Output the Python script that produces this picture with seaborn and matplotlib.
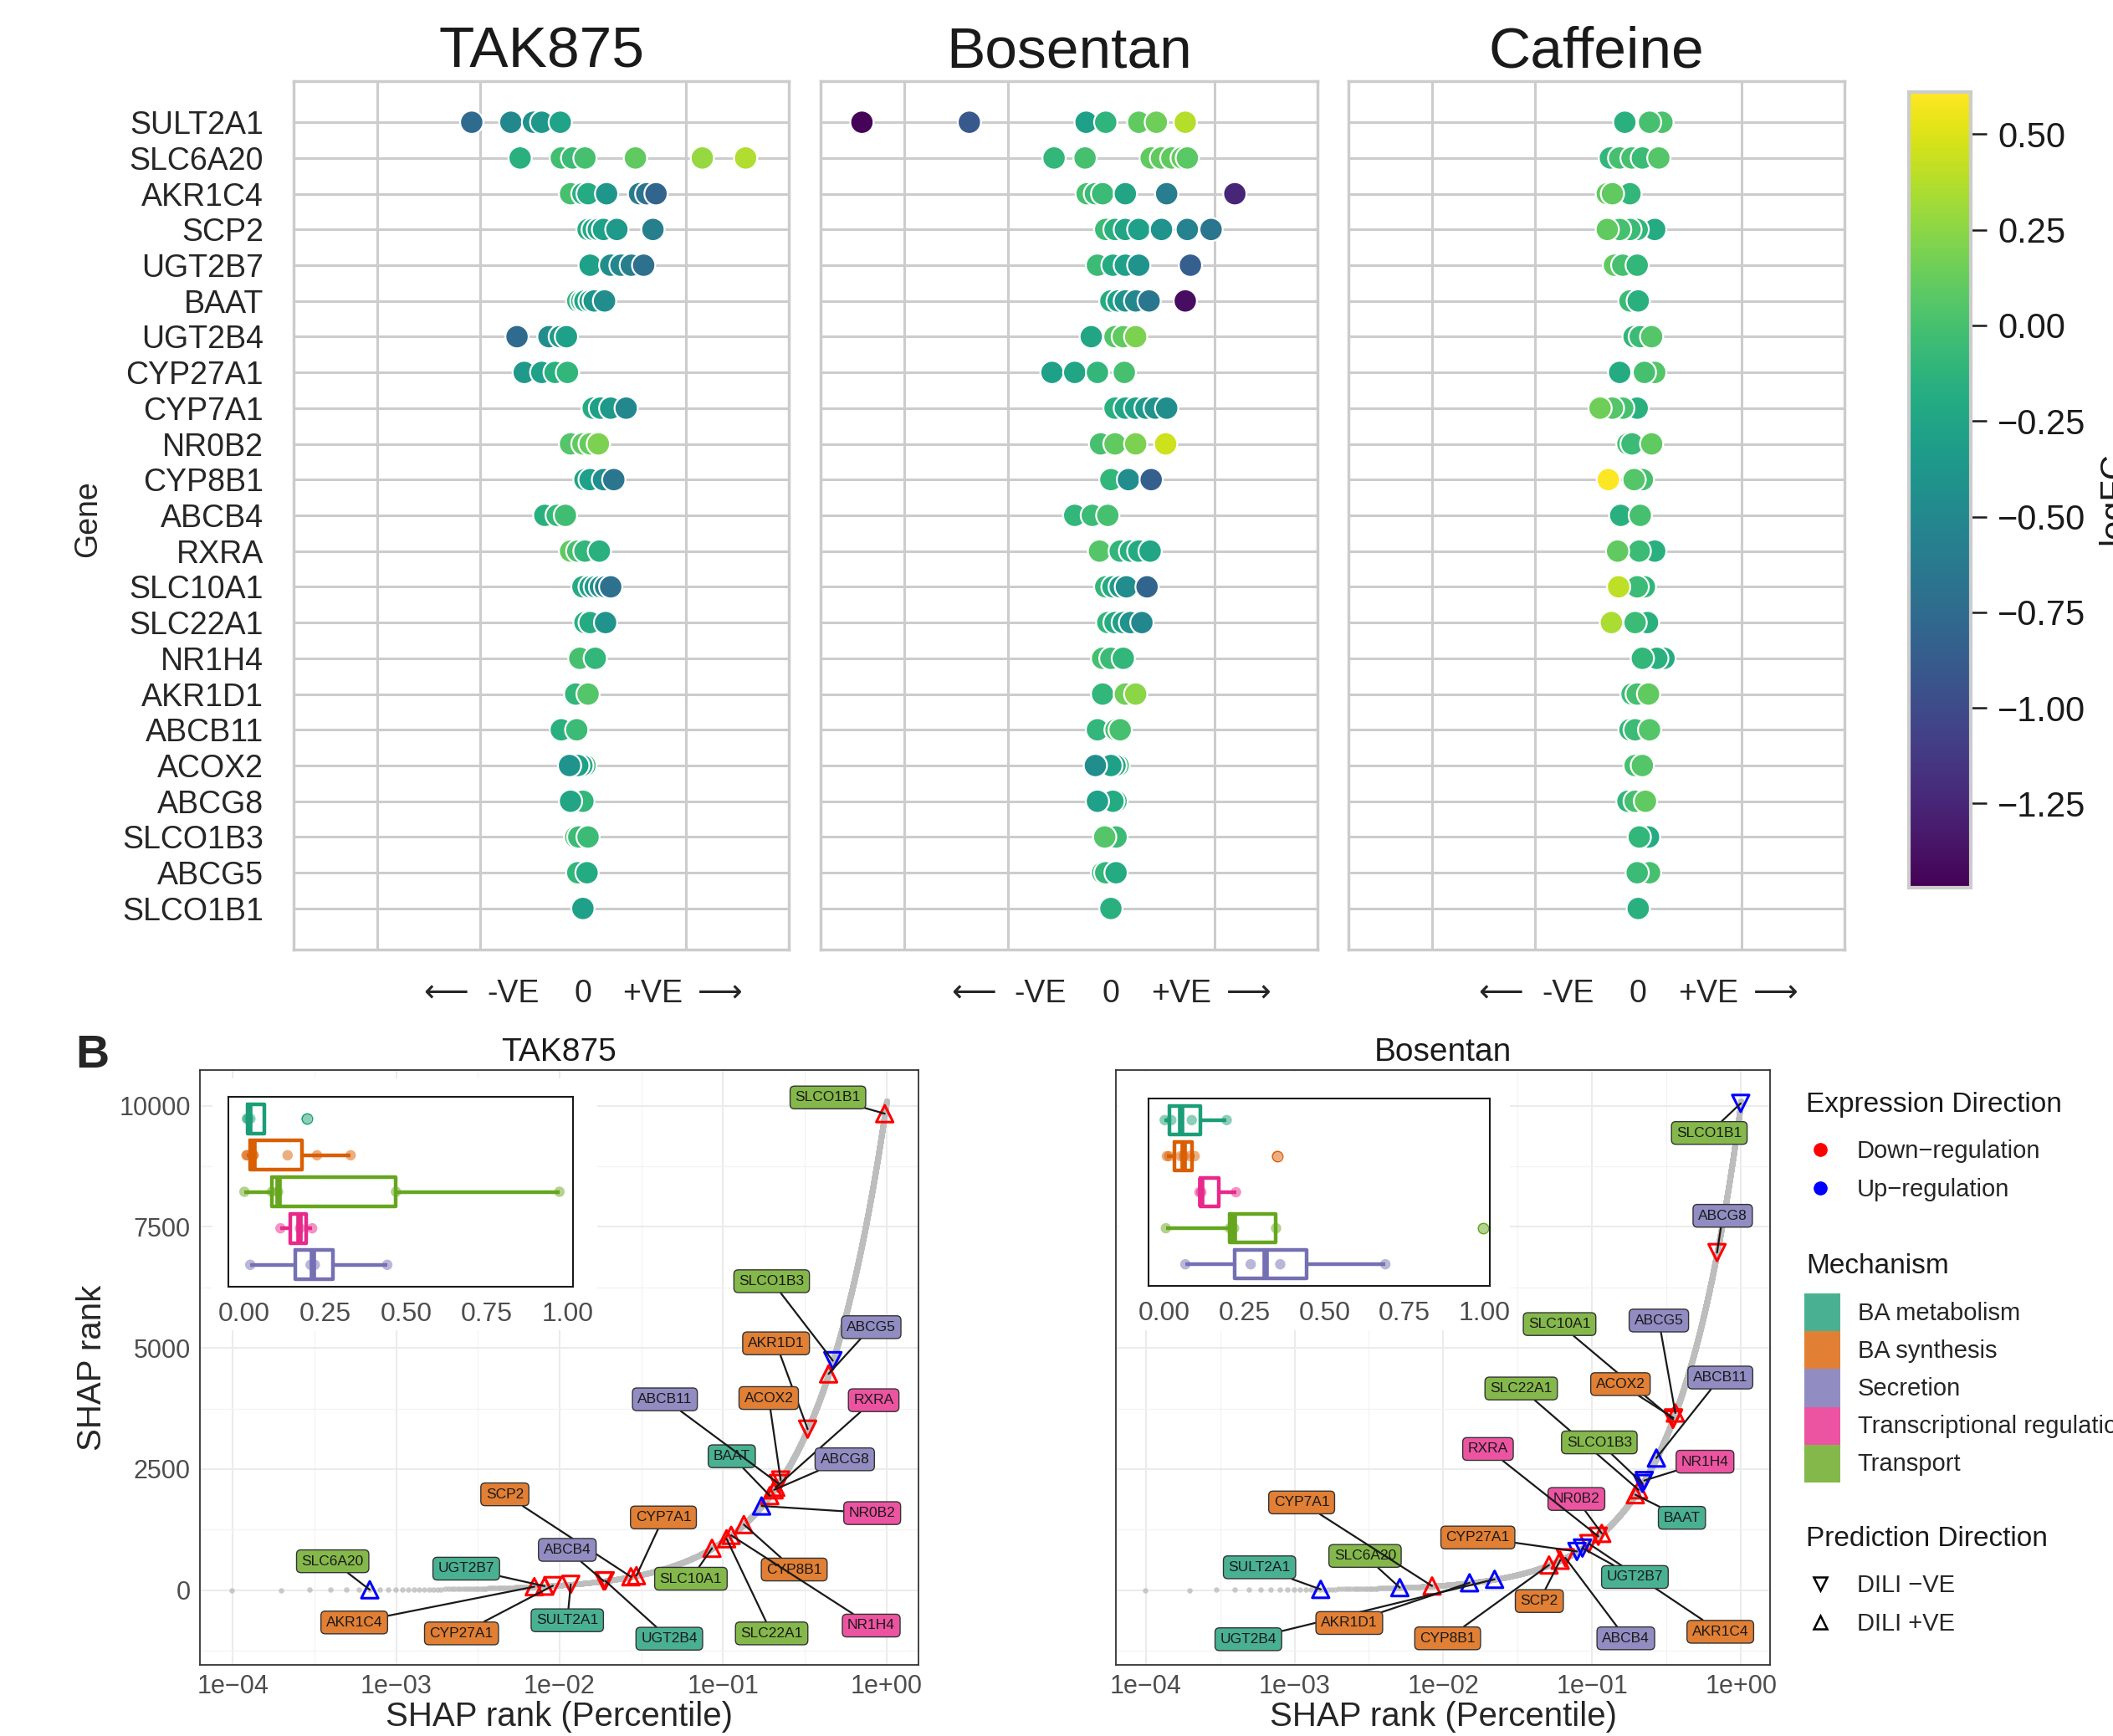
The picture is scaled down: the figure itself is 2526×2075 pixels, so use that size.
import matplotlib
matplotlib.use("Agg")
import matplotlib.pyplot as plt
from matplotlib.lines import Line2D
from matplotlib.patches import Patch, Rectangle
from matplotlib.cm import ScalarMappable
from matplotlib.colors import Normalize
from matplotlib.ticker import FuncFormatter, NullFormatter
import seaborn as sns
import pandas as pd
import numpy as np

genes = ["SULT2A1", "SLC6A20", "AKR1C4", "SCP2", "UGT2B7", "BAAT", "UGT2B4", "CYP27A1",
         "CYP7A1", "NR0B2", "CYP8B1", "ABCB4", "RXRA", "SLC10A1", "SLC22A1", "NR1H4",
         "AKR1D1", "ABCB11", "ACOX2", "ABCG8", "SLCO1B3", "ABCG5", "SLCO1B1"]

# ---- panel A: SHAP value per sample (grid units) and logFC colour ----
tak_shap = {
    "SULT2A1": [-1.08, -0.70, -0.48, -0.40, -0.22], "SLC6A20": [-0.61, -0.21, -0.10, 0.02, 0.51, 1.16, 1.58],
    "AKR1C4": [-0.12, 0.0, 0.05, 0.23, 0.55, 0.62, 0.71], "SCP2": [0.05, 0.10, 0.15, 0.20, 0.33, 0.68],
    "UGT2B7": [0.07, 0.27, 0.37, 0.47, 0.59], "BAAT": [-0.05, -0.01, 0.02, 0.07, 0.11, 0.21],
    "UGT2B4": [-0.64, -0.33, -0.22, -0.16], "CYP27A1": [-0.57, -0.40, -0.27, -0.15],
    "CYP7A1": [0.10, 0.17, 0.27, 0.42], "NR0B2": [-0.12, 0.0, 0.07, 0.15], "CYP8B1": [0.02, 0.07, 0.20, 0.30],
    "ABCB4": [-0.37, -0.25, -0.17], "RXRA": [-0.12, -0.05, 0.02, 0.16],
    "SLC10A1": [0.0, 0.07, 0.12, 0.17, 0.22, 0.27], "SLC22A1": [0.02, 0.07, 0.22], "NR1H4": [-0.03, 0.12],
    "AKR1D1": [-0.07, 0.05], "ABCB11": [-0.21, -0.06], "ACOX2": [0.02, -0.01, -0.05, -0.13],
    "ABCG8": [0.0, -0.12], "SLCO1B3": [-0.07, -0.04, 0.05], "ABCG5": [-0.05, 0.04], "SLCO1B1": [0.0]}
tak_lfc = {
    "SULT2A1": [-0.75, -0.5, -0.42, -0.36, -0.26], "SLC6A20": [-0.15, -0.02, -0.05, 0.0, 0.1, 0.28, 0.36],
    "AKR1C4": [0.0, -0.15, -0.2, -0.38, -0.62, -0.68, -0.8], "SCP2": [-0.18, -0.22, -0.28, -0.3, -0.35, -0.58],
    "UGT2B7": [-0.3, -0.45, -0.5, -0.58, -0.7], "BAAT": [-0.1, -0.15, -0.25, -0.3, -0.38, -0.45],
    "UGT2B4": [-0.75, -0.45, -0.35, -0.3], "CYP27A1": [-0.35, -0.3, -0.15, -0.1],
    "CYP7A1": [-0.2, -0.3, -0.35, -0.5], "NR0B2": [0.05, 0.1, 0.12, 0.2], "CYP8B1": [-0.25, -0.3, -0.45, -0.65],
    "ABCB4": [-0.15, -0.08, -0.03], "RXRA": [0.1, 0.0, -0.1, -0.15],
    "SLC10A1": [-0.2, -0.3, -0.35, -0.45, -0.55, -0.7], "SLC22A1": [-0.15, -0.2, -0.4], "NR1H4": [0.0, -0.1],
    "AKR1D1": [-0.1, 0.05], "ABCB11": [-0.15, -0.05], "ACOX2": [-0.1, -0.2, -0.3, -0.4],
    "ABCG8": [-0.1, -0.25], "SLCO1B3": [0.0, -0.05, -0.05], "ABCG5": [-0.1, -0.2], "SLCO1B1": [-0.3]}

bos_shap = {
    "SULT2A1": [-2.41, -1.37, -0.24, -0.05, 0.27, 0.44, 0.72], "SLC6A20": [-0.55, -0.25, 0.39, 0.49, 0.59, 0.69, 0.74],
    "AKR1C4": [-0.23, -0.15, -0.08, 0.14, 0.54, 1.20], "SCP2": [-0.05, 0.04, 0.14, 0.27, 0.49, 0.74, 0.97],
    "UGT2B7": [-0.13, 0.02, 0.14, 0.27, 0.77], "BAAT": [0.0, 0.07, 0.14, 0.24, 0.37, 0.72],
    "UGT2B4": [-0.19, 0.04, 0.12, 0.24], "CYP27A1": [-0.57, -0.35, -0.13, 0.13],
    "CYP7A1": [0.04, 0.14, 0.24, 0.34, 0.43, 0.54], "NR0B2": [-0.10, 0.04, 0.24, 0.53], "CYP8B1": [0.0, 0.17, 0.39],
    "ABCB4": [-0.35, -0.18, -0.03], "RXRA": [-0.11, 0.09, 0.19, 0.27, 0.38],
    "SLC10A1": [-0.05, 0.02, 0.09, 0.15, 0.35], "SLC22A1": [-0.03, 0.04, 0.12, 0.19, 0.30], "NR1H4": [-0.08, 0.0, 0.12],
    "AKR1D1": [-0.08, 0.14, 0.24], "ABCB11": [-0.13, 0.05, 0.09], "ACOX2": [0.07, 0.04, 0.0, -0.15],
    "ABCG8": [0.05, 0.02, -0.13], "SLCO1B3": [0.05, -0.06], "ABCG5": [-0.08, -0.05, 0.05], "SLCO1B1": [0.0]}
bos_lfc = {
    "SULT2A1": [-1.45, -0.9, -0.3, -0.12, 0.1, 0.15, 0.38], "SLC6A20": [-0.1, 0.0, 0.1, 0.1, 0.1, 0.12, 0.08],
    "AKR1C4": [0.0, -0.05, -0.05, -0.25, -0.6, -1.25], "SCP2": [-0.05, -0.15, -0.25, -0.3, -0.4, -0.55, -0.65],
    "UGT2B7": [-0.05, -0.2, -0.3, -0.4, -0.85], "BAAT": [-0.2, -0.3, -0.4, -0.5, -0.65, -1.4],
    "UGT2B4": [-0.25, 0.05, 0.1, 0.2], "CYP27A1": [-0.3, -0.25, -0.1, 0.0],
    "CYP7A1": [-0.15, -0.25, -0.3, -0.35, -0.4, -0.45], "NR0B2": [0.0, 0.1, 0.2, 0.45], "CYP8B1": [-0.1, -0.45, -0.85],
    "ABCB4": [-0.1, -0.05, 0.0], "RXRA": [0.05, -0.1, -0.15, -0.2, -0.25],
    "SLC10A1": [-0.1, -0.2, -0.35, -0.45, -0.8], "SLC22A1": [-0.1, -0.2, -0.3, -0.4, -0.5], "NR1H4": [0.0, -0.05, -0.1],
    "AKR1D1": [-0.1, 0.15, 0.25], "ABCB11": [-0.1, 0.0, 0.0], "ACOX2": [-0.1, -0.2, -0.3, -0.45],
    "ABCG8": [-0.1, -0.2, -0.3], "SLCO1B3": [-0.05, 0.05], "ABCG5": [-0.05, -0.1, -0.2], "SLCO1B1": [-0.15]}

caf_shap = {
    "SULT2A1": [0.23, -0.13, 0.11], "SLC6A20": [-0.27, -0.18, -0.06, 0.04, 0.20], "AKR1C4": [-0.08, -0.30, -0.25],
    "SCP2": [0.16, -0.01, -0.08, -0.18, -0.30], "UGT2B7": [-0.23, -0.15, -0.01], "BAAT": [-0.08, 0.0],
    "UGT2B4": [-0.04, 0.02, 0.13], "CYP27A1": [0.16, -0.18, 0.06], "CYP7A1": [-0.01, -0.15, -0.25, -0.37],
    "NR0B2": [-0.10, -0.06, 0.13], "CYP8B1": [0.04, -0.04, -0.29], "ABCB4": [-0.17, 0.02],
    "RXRA": [0.16, 0.01, -0.20], "SLC10A1": [0.06, -0.01, -0.19], "SLC22A1": [0.09, -0.03, -0.26],
    "NR1H4": [0.25, 0.18, 0.04], "AKR1D1": [-0.06, -0.01, 0.10], "ABCB11": [-0.08, -0.03, 0.11],
    "ACOX2": [-0.03, 0.04], "ABCG8": [-0.10, -0.03, 0.07], "SLCO1B3": [0.10, 0.01], "ABCG5": [0.11, -0.01],
    "SLCO1B1": [0.0]}
caf_lfc = {
    "SULT2A1": [0.02, -0.15, 0.0], "SLC6A20": [-0.1, 0.0, 0.0, -0.05, 0.05], "AKR1C4": [-0.1, 0.1, 0.1],
    "SCP2": [-0.2, -0.1, -0.05, 0.0, 0.1], "UGT2B7": [0.1, 0.0, -0.1], "BAAT": [-0.05, -0.15],
    "UGT2B4": [-0.1, -0.05, 0.05], "CYP27A1": [0.05, -0.2, 0.0], "CYP7A1": [-0.15, 0.0, 0.05, 0.15],
    "NR0B2": [0.0, -0.05, 0.1], "CYP8B1": [0.0, 0.05, 0.6], "ABCB4": [-0.15, 0.0],
    "RXRA": [-0.15, -0.05, 0.1], "SLC10A1": [-0.1, -0.05, 0.4], "SLC22A1": [-0.15, -0.05, 0.35],
    "NR1H4": [-0.2, -0.15, -0.1], "AKR1D1": [-0.05, 0.0, 0.1], "ABCB11": [-0.1, -0.05, 0.05],
    "ACOX2": [0.0, 0.05], "ABCG8": [-0.1, 0.0, 0.1], "SLCO1B3": [-0.2, -0.1], "ABCG5": [0.0, -0.05],
    "SLCO1B1": [-0.15]}

lfc_min, lfc_max = -1.47, 0.61
cbar_ticks = [0.5, 0.25, 0.0, -0.25, -0.5, -0.75, -1.0, -1.25]
dir_ticks = [-1.33, -0.68, 0, 0.68, 1.33]
dir_labels = ["\u27f5", "-VE", "0", "+VE", "\u27f6"]

# ---- panel B: SHAP rank percentile of each gene ----
n_all = 10100
mechanism = {
    "SULT2A1": "BA metabolism", "UGT2B7": "BA metabolism", "UGT2B4": "BA metabolism", "BAAT": "BA metabolism",
    "AKR1C4": "BA synthesis", "SCP2": "BA synthesis", "CYP27A1": "BA synthesis", "CYP7A1": "BA synthesis",
    "CYP8B1": "BA synthesis", "ACOX2": "BA synthesis", "AKR1D1": "BA synthesis",
    "ABCB4": "Secretion", "ABCB11": "Secretion", "ABCG8": "Secretion", "ABCG5": "Secretion",
    "NR0B2": "Transcriptional regulation", "RXRA": "Transcriptional regulation", "NR1H4": "Transcriptional regulation",
    "SLC6A20": "Transport", "SLC10A1": "Transport", "SLC22A1": "Transport", "SLCO1B3": "Transport",
    "SLCO1B1": "Transport"}
mech_names = ["BA metabolism", "BA synthesis", "Secretion", "Transcriptional regulation", "Transport"]

tak_pct = {
    "SULT2A1": 0.0117, "SLC6A20": 0.00069, "AKR1C4": 0.0070, "SCP2": 0.0273, "UGT2B7": 0.0081, "BAAT": 0.193,
    "UGT2B4": 0.0190, "CYP27A1": 0.0091, "CYP7A1": 0.0295, "NR0B2": 0.172, "CYP8B1": 0.134, "ABCB4": 0.0186,
    "RXRA": 0.210, "SLC10A1": 0.0855, "SLC22A1": 0.105, "NR1H4": 0.112, "AKR1D1": 0.329, "ABCB11": 0.218,
    "ACOX2": 0.225, "ABCG8": 0.205, "SLCO1B3": 0.469, "ABCG5": 0.442, "SLCO1B1": 0.974}
tak_expr = {g: "Down" for g in genes}
tak_expr.update({"SLC6A20": "Up", "NR0B2": "Up", "SLCO1B3": "Up"})
tak_pred = {g: "DILI +VE" for g in genes}
tak_pred.update({g: "DILI -VE" for g in ["CYP27A1", "SULT2A1", "UGT2B4", "ABCB4", "AKR1D1",
                                         "ABCB11", "ACOX2", "SLCO1B3"]})

bos_pct = {
    "SULT2A1": 0.0015, "SLC6A20": 0.0051, "CYP7A1": 0.0084, "AKR1D1": 0.0150, "UGT2B4": 0.0221, "CYP8B1": 0.0513,
    "SCP2": 0.061, "ABCB4": 0.066, "CYP27A1": 0.079, "UGT2B7": 0.086, "AKR1C4": 0.095, "NR0B2": 0.116,
    "RXRA": 0.110, "BAAT": 0.195, "SLC22A1": 0.205, "SLCO1B3": 0.218, "NR1H4": 0.224, "ABCB11": 0.270,
    "SLC10A1": 0.349, "ABCG5": 0.362, "ACOX2": 0.352, "ABCG8": 0.690, "SLCO1B1": 0.995}
bos_expr = {g: "Down" for g in genes}
bos_expr.update({g: "Up" for g in ["SULT2A1", "SLC6A20", "AKR1D1", "UGT2B4", "CYP27A1", "UGT2B7",
                                   "SLCO1B3", "NR1H4", "ABCB11", "SLCO1B1"]})
bos_pred = {g: "DILI +VE" for g in genes}
bos_pred.update({g: "DILI -VE" for g in ["ABCB4", "CYP27A1", "UGT2B7", "AKR1C4", "RXRA", "SLCO1B3",
                                         "NR1H4", "SLC10A1", "ACOX2", "ABCG8", "SLCO1B1"]})

# label placement (log10 x, rank) - layout only
tak_label_pos = {
    "SLCO1B1": (-0.359, 10172), "SLCO1B3": (-0.703, 6378), "ABCG5": (-0.094, 5429), "AKR1D1": (-0.676, 5095),
    "ABCB11": (-1.356, 3939), "ACOX2": (-0.721, 3966), "RXRA": (-0.079, 3921), "BAAT": (-0.947, 2764),
    "ABCG8": (-0.256, 2701), "NR0B2": (-0.088, 1590), "SCP2": (-2.335, 1978), "CYP7A1": (-1.365, 1500),
    "ABCB4": (-1.953, 831), "SLC10A1": (-1.197, 235), "CYP8B1": (-0.565, 425), "SLC6A20": (-3.388, 596),
    "UGT2B7": (-2.571, 443), "AKR1C4": (-3.256, -668), "CYP27A1": (-2.60, -894), "SULT2A1": (-1.953, -623),
    "UGT2B4": (-1.329, -1003), "SLC22A1": (-0.703, -894), "NR1H4": (-0.094, -732)}
bos_label_pos = {
    "SLCO1B1": (-0.213, 9439), "ABCG8": (-0.123, 7729), "SLC10A1": (-1.219, 5493), "ABCG5": (-0.552, 5566),
    "ABCB11": (-0.139, 4389), "ACOX2": (-0.810, 4253), "SLC22A1": (-1.477, 4163), "RXRA": (-1.700, 2914),
    "SLCO1B3": (-0.952, 3050), "NR1H4": (-0.242, 2652), "NR0B2": (-1.106, 1882), "BAAT": (-0.397, 1493),
    "CYP7A1": (-2.952, 1810), "CYP27A1": (-1.768, 1086), "SLC6A20": (-2.526, 706), "SULT2A1": (-3.235, 471),
    "UGT2B7": (-0.713, 271), "SCP2": (-1.355, -226), "AKR1D1": (-2.632, -679), "UGT2B4": (-3.310, -1014),
    "CYP8B1": (-1.971, -995), "ABCB4": (-0.774, -995), "AKR1C4": (-0.139, -860)}

tak_order = ["BA metabolism", "BA synthesis", "Transport", "Transcriptional regulation", "Secretion"]
bos_order = ["BA metabolism", "BA synthesis", "Transcriptional regulation", "Transport", "Secretion"]

dark2 = {"BA metabolism": "#1b9e77", "BA synthesis": "#d95f02", "Secretion": "#7570b3",
         "Transcriptional regulation": "#e7298a", "Transport": "#66a61e"}
mech_fill = {"BA metabolism": "#49b192", "BA synthesis": "#e17f35", "Secretion": "#918dc2",
             "Transcriptional regulation": "#ec54a1", "Transport": "#85b84b"}
expr_pal = {"Down": "red", "Up": "blue"}

sns.set_theme(style="whitegrid")
plt.rcParams["font.family"] = ["Liberation Sans", "DejaVu Sans"]
plt.rcParams["axes.unicode_minus"] = True

W, H = 2526, 2075
fig = plt.figure(figsize=(W / 100, H / 100), dpi=100)


def fbox(x0, y0, x1, y1):
    return [x0 / W, 1 - y1 / H, (x1 - x0) / W, (y1 - y0) / H]


# ------------------ top row ------------------
top = [("TAK875", tak_shap, tak_lfc, (351, 97, 943, 1135)),
       ("Bosentan", bos_shap, bos_lfc, (981, 97, 1575, 1135)),
       ("Caffeine", caf_shap, caf_lfc, (1612, 97, 2205, 1135))]

for i, (name, shap, lfc, box) in enumerate(top):
    ax = fig.add_axes(fbox(*box))
    rows = [(gi, s, l) for gi, g in enumerate(genes) for s, l in zip(shap[g], lfc[g])]
    df = pd.DataFrame(rows, columns=["row", "shap", "logFC"])
    sns.scatterplot(data=df, x="shap", y="row", hue="logFC", palette="viridis",
                    hue_norm=(lfc_min, lfc_max), s=400, edgecolor="white", linewidth=1.6,
                    legend=False, ax=ax, zorder=3)
    ax.set_xlim(-2.81, 2.0)
    ax.set_ylim(len(genes) - 1 + 1.15, -1.15)
    ax.set_xticks(dir_ticks)
    ax.set_xticklabels(dir_labels)
    ax.set_xticks([-2, -1, 0, 1], minor=True)
    ax.set_yticks(range(len(genes)))
    ax.set_yticklabels(genes if i == 0 else [])
    ax.grid(False)
    ax.grid(True, which="minor", axis="x", color="#cccccc", lw=2.2)
    ax.grid(True, which="major", axis="y", color="#cccccc", lw=2.2)
    ax.set_axisbelow(True)
    ax.tick_params(which="both", length=0)
    ax.tick_params(axis="y", labelsize=27, pad=26, labelcolor="#262626")
    ax.tick_params(axis="x", labelsize=27, pad=25, labelcolor="#262626")
    for sp in ax.spines.values():
        sp.set_color("#cccccc")
        sp.set_linewidth(2.5)
    ax.set_xlabel("")
    ax.set_ylabel("")
    ax.set_title(name, fontsize=50, pad=12, color="#1a1a1a")

fig.text(105 / W, 1 - 620 / H, "Gene", rotation=90, fontsize=27, ha="center", va="center", color="#262626")

cax = fig.add_axes(fbox(2282, 110, 2356, 1061))
sm = ScalarMappable(norm=Normalize(lfc_min, lfc_max), cmap="viridis")
cb = fig.colorbar(sm, cax=cax, ticks=cbar_ticks)
cb.ax.yaxis.set_major_formatter(FuncFormatter(lambda v, p: f"{v:.2f}".replace("-", "\u2212")))
cb.outline.set_edgecolor("#cccccc")
cb.outline.set_linewidth(3)
cax.grid(False)
cax.tick_params(length=14, width=1.8, labelsize=30, pad=9, colors="#1a1a1a")
# colourbar title sits at the figure edge, clipped like the original
fig.text(2507 / W, 1 - 596 / H, "logFC", rotation=90, fontsize=30, ha="left", va="center", color="#1a1a1a")

# ------------------ bottom row ------------------
fig.text(110 / W, 1 - 1262 / H, "B", fontsize=40, fontweight="bold", ha="center", va="center")

all_ranks = np.arange(1, n_all + 1)
curve = pd.DataFrame({"pct": all_ranks / n_all, "rank": all_ranks})

bottom = [("TAK875", tak_pct, tak_expr, tak_pred, tak_label_pos, tak_order,
           (239, 1279, 1098, 1990), (273, 1311, 685, 1538), (254, 1289, 714, 1590), True),
          ("Bosentan", bos_pct, bos_expr, bos_pred, bos_label_pos, bos_order,
           (1334, 1279, 2116, 1990), (1373, 1313, 1781, 1537), (1337, 1281, 1805, 1590), False)]

for name, pct, expr, pred, lab_pos, order, box, ibox, wbox, show_y in bottom:
    ax = fig.add_axes(fbox(*box))
    sns.scatterplot(data=curve, x="pct", y="rank", color="#bdbdbd", s=22, linewidth=0,
                    alpha=0.8, ax=ax, zorder=2)
    gdf = pd.DataFrame({"gene": genes,
                        "pct": [pct[g] for g in genes],
                        "expr": [expr[g] for g in genes],
                        "pred": [pred[g] for g in genes]})
    gdf["rank"] = gdf["pct"] * n_all
    sns.scatterplot(data=gdf, x="pct", y="rank", hue="expr", hue_order=["Down", "Up"], palette=expr_pal,
                    style="pred", style_order=["DILI -VE", "DILI +VE"],
                    markers={"DILI -VE": "v", "DILI +VE": "^"}, s=210, linewidth=2.2,
                    legend=False, ax=ax, zorder=4)
    pts = ax.collections[-1]
    pts.set_edgecolors(pts.get_facecolors())
    pts.set_facecolors("none")

    for g in genes:
        lx, ly = lab_pos[g]
        ax.annotate(g, xy=(pct[g], pct[g] * n_all), xytext=(10 ** lx, ly), textcoords="data",
                    ha="center", va="center", fontsize=12.5, color="#1a1a1a", zorder=5,
                    bbox=dict(boxstyle="round,pad=0.35,rounding_size=0.3", fc=mech_fill[mechanism[g]],
                              ec="#333333", lw=1.0),
                    arrowprops=dict(arrowstyle="-", color="#1a1a1a", lw=1.6, shrinkA=0, shrinkB=0))

    ax.set_xscale("log")
    ax.set_xlim(10 ** -4.2, 10 ** 0.195)
    ax.set_ylim(-1544, 10738)
    ax.set_xticks([1e-4, 1e-3, 1e-2, 1e-1, 1e0])
    ax.set_xticklabels(["1e\u221204", "1e\u221203", "1e\u221202", "1e\u221201", "1e+00"])
    ax.set_xticks([10 ** -3.5, 10 ** -2.5, 10 ** -1.5, 10 ** -0.5], minor=True)
    ax.xaxis.set_minor_formatter(NullFormatter())
    ax.set_yticks([0, 2500, 5000, 7500, 10000])
    ax.set_yticks([-1250, 1250, 3750, 6250, 8750], minor=True)
    if not show_y:
        ax.set_yticklabels([])
    ax.grid(True, which="major", color="#ebebeb", lw=1.5)
    ax.grid(True, which="minor", color="#f3f3f3", lw=0.9)
    ax.set_axisbelow(True)
    ax.tick_params(which="minor", length=0)
    ax.tick_params(which="major", length=4, width=1.2, color="#333333", labelsize=22,
                   labelcolor="#4d4d4d", pad=4)
    for sp in ax.spines.values():
        sp.set_color("#333333")
        sp.set_linewidth(1.3)
    ax.set_xlabel("")
    ax.set_ylabel("")
    ax.add_patch(Rectangle((wbox[0] / W, 1 - wbox[3] / H), (wbox[2] - wbox[0]) / W, (wbox[3] - wbox[1]) / H,
                           transform=fig.transFigure, facecolor="white", edgecolor="none", zorder=1))

    cx = (box[0] + box[2]) / 2 / W
    fig.text(cx, 1 - 1258 / H, name, fontsize=28, ha="center", va="center", color="#1a1a1a")
    fig.text(cx, 1 - 2052 / H, "SHAP rank (Percentile)", fontsize=29, ha="center", va="center")

    # inset: percentile distribution per mechanism
    axi = fig.add_axes(fbox(*ibox), zorder=5)
    mdf = pd.DataFrame({"pct": [pct[g] for g in genes], "mech": [mechanism[g] for g in genes]})
    sns.boxplot(data=mdf, x="pct", y="mech", order=order, hue="mech", hue_order=order, palette=dark2,
                fill=False, width=0.8, linewidth=3.2, showcaps=False,
                flierprops=dict(marker="o", markersize=9), medianprops=dict(linewidth=5.5),
                legend=False, ax=axi)
    sns.stripplot(data=mdf, x="pct", y="mech", order=order, hue="mech", hue_order=order, palette=dark2,
                  jitter=False, size=9, alpha=0.5, legend=False, ax=axi)
    axi.set_xlim(-0.049, 1.016)
    axi.set_ylim(4.6, -0.6)
    axi.set_xticks([0, 0.25, 0.5, 0.75, 1.0])
    axi.set_xticklabels(["0.00", "0.25", "0.50", "0.75", "1.00"])
    axi.set_yticks([])
    axi.grid(False)
    axi.set_facecolor("white")
    axi.set_xlabel("")
    axi.set_ylabel("")
    for sp in axi.spines.values():
        sp.set_color("#1a1a1a")
        sp.set_linewidth(1.5)
    axi.tick_params(axis="x", length=7, width=1.2, color="#333333", labelsize=23,
                    labelcolor="#4d4d4d", pad=6)

fig.text(110 / W, 1 - 1635 / H, "SHAP rank", rotation=90, fontsize=29, ha="center", va="center")

# ------------------ legends ------------------
expr_handles = [Line2D([], [], marker="o", ls="none", color="red", markersize=11, label="Down\u2212regulation"),
                Line2D([], [], marker="o", ls="none", color="blue", markersize=11, label="Up\u2212regulation")]
mech_handles = [Patch(facecolor=mech_fill[m], edgecolor="none", label=m) for m in mech_names]
pred_handles = [Line2D([], [], marker="v", ls="none", markerfacecolor="none", markeredgecolor="black",
                       markeredgewidth=1.8, markersize=11, label="DILI \u2212VE"),
                Line2D([], [], marker="^", ls="none", markerfacecolor="none", markeredgecolor="black",
                       markeredgewidth=1.8, markersize=11, label="DILI +VE")]

leg_x = 2157 / W
common = dict(loc="center left", frameon=False, fontsize=21, borderpad=0, borderaxespad=0)
for title, ty in [("Expression Direction", 1321), ("Mechanism", 1513), ("Prediction Direction", 1840)]:
    fig.text(2159 / W, 1 - ty / H, title, fontsize=24, ha="left", va="center", color="#1a1a1a")
fig.legend(handles=expr_handles, bbox_to_anchor=(leg_x, 1 - 1399 / H),
           handlelength=1.27, handletextpad=0.88, labelspacing=0.6, **common)
fig.legend(handles=mech_handles, bbox_to_anchor=(leg_x, 1 - 1659 / H),
           handlelength=1.48, handleheight=2.0, handletextpad=0.7, labelspacing=0.0, **common)
fig.legend(handles=pred_handles, bbox_to_anchor=(leg_x, 1 - 1918 / H),
           handlelength=1.27, handletextpad=0.88, labelspacing=0.6, **common)

fig.savefig("out.png", dpi=100)
